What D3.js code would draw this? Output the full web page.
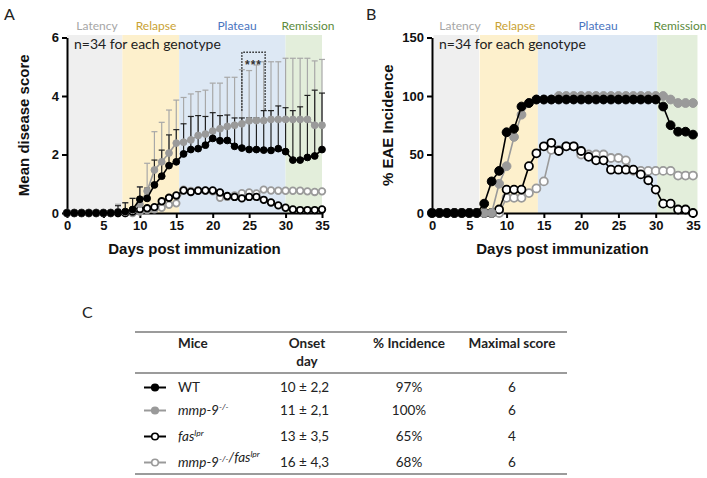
<!DOCTYPE html>
<html>
<head>
<meta charset="utf-8">
<script src="https://cdn.jsdelivr.net/npm/d3@7/dist/d3.min.js"></script>
<style>
  body { margin: 0; background: #fff; }
  svg { display: block; }
</style>
</head>
<body>
<div id="chart"></div>
<script>
// ---- data ----
const days = d3.range(0, 36);

// panel A: mean disease score (one-sided SD bars for WT and mmp-9)
const wtScore  = [0,0,0,0,0,0,0,0.03,0.05,0.12,0.47,0.5,0.96,1.26,1.62,1.75,2.02,2.17,2.2,2.32,2.55,2.47,2.48,2.28,2.22,2.17,2.17,2.15,2.14,2.2,2.1,1.81,1.81,1.9,1.95,2.17];
const wtSd     = [0,0,0,0,0,0,0,0.22,0.3,0.38,0.42,0.35,0.85,0.89,1.05,1.1,1.03,1.13,1.13,0.98,0.88,0.86,0.87,0.97,1.03,1.08,1.08,1.35,1.36,1.46,1.5,1.69,1.82,2.12,2.25,1.93];
const mmpScore = [0,0,0,0,0,0,0,0.05,0.03,0.1,0.3,0.75,1.47,1.75,2.05,2.39,2.42,2.5,2.65,2.7,2.8,2.88,2.96,3.0,3.05,3.15,3.16,3.16,3.2,3.2,3.2,3.2,3.2,3.2,3.0,3.0];
const mmpSd    = [0,0,0,0,0,0,0,0.25,0.32,0.4,0.6,0.95,1.31,1.35,1.47,1.47,1.53,1.57,1.5,1.5,1.64,1.56,1.68,1.64,1.85,1.72,1.9,2.01,1.97,1.97,2.09,2.09,2.09,2.09,2.2,2.25];
const fasScore = [0,0,0,0,0,0,0,0,0,0.05,0.13,0.16,0.2,0.4,0.52,0.6,0.77,0.72,0.76,0.77,0.77,0.7,0.58,0.55,0.5,0.55,0.55,0.45,0.36,0.26,0.18,0.12,0.1,0.1,0.1,0.12];
const dkoScore = [0,0,0,0,0,0,0,0,0,0,0.05,0.1,0.13,0.18,0.28,0.33,0.8,0.75,0.78,0.76,0.74,0.52,0.55,0.6,0.68,0.7,0.67,0.8,0.77,0.76,0.76,0.76,0.76,0.74,0.72,0.74];

// panel B: % EAE incidence
const wtInc  = [0,0,0,0,0,0,0,8,27,36,69,72,91,94,97,97,97,97,97,97,97,97,97,97,97,97,97,97,97,97,97,91,75,69.5,69.5,67];
const mmpInc = [0,0,0,0,0,0,0,0,0,25,40,65,84,94,97,97,97,100,100,100,100,100,100,100,100,100,100,100,100,100,100,100,97,94,94,94];
const fasInc = [0,0,0,0,0,0,0,0,0,3,20,20,20,40,51,57,60,53,57,57,53,48,45,45,37,37,37,37,33,28,20,8,8,3,3,0];
const dkoInc = [0,0,0,0,0,0,0,0,0,0,13,13,13,17,21,27,54,54,57,57,50,50,50,50,47,47,45,36,36,36,36,36,36,32,32,32];

// disease phases (in days)
const phaseNames  = ["Latency", "Relapse", "Plateau", "Remission"];
const phaseStartA = [0, 7.6, 15.4, 30];
const phaseEndA   = [7.6, 15.4, 30, 35];
const phaseStartB = [0.2, 6.4, 14.2, 30.2];
const phaseEndB   = [6.3, 14.2, 30.2, 35.6];

// significance bracket (days 24-27)
const sigDays = [24, 27.2];
const sigRange = [3.5, 5.5];

// table C
const miceNames  = ["WT", "mmp-9", "fas", "mmp-9/fas"];
const onsetMean  = ["10", "11", "13", "16"];
const onsetSd    = ["2,2", "2,1", "3,5", "4,3"];
const incidence  = ["97%", "100%", "65%", "68%"];
const maxScore   = ["6", "6", "4", "6"];

// ---- styles ----
const phaseFill  = ["#efefef", "#fdf0cc", "#dde8f4", "#e3eedb"];
const phaseColor = ["#a6a6a6", "#c9a233", "#4a74c0", "#5b8a3c"];
const gray = "#9a9a9a";
const seriesStyle = [
  {stroke: gray,   fill: "#fff"}, // mmp-9/fas
  {stroke: "#000", fill: "#fff"}, // fas
  {stroke: gray,   fill: gray},   // mmp-9
  {stroke: "#000", fill: "#000"}  // WT
];
const numFont = "'Liberation Sans', Arial, sans-serif";
const txtFont = "Lato, 'Open Sans', sans-serif";

const W = 707, H = 478;
const svg = d3.select("#chart").append("svg")
  .attr("width", W).attr("height", H);

function drawPanel(cfg) {
  const x = d3.scaleLinear().domain([0, 35]).range(cfg.xRange);
  const y = d3.scaleLinear().domain(cfg.yDomain).range([213, 37.5]);
  const g = svg.append("g");

  // phase shading
  g.selectAll("rect.phase")
    .data(phaseNames)
    .join("rect")
    .attr("class", "phase")
    .attr("x", (d, i) => x(cfg.starts[i]))
    .attr("width", (d, i) => x(cfg.ends[i]) - x(cfg.starts[i]))
    .attr("y", cfg.bandTop)
    .attr("height", y(0) - cfg.bandTop)
    .attr("fill", (d, i) => phaseFill[i]);

  g.selectAll("text.phase")
    .data(phaseNames)
    .join("text")
    .attr("class", "phase")
    .attr("x", (d, i) => cfg.labelX[i])
    .attr("y", 30)
    .attr("text-anchor", "middle")
    .attr("font-family", txtFont)
    .attr("font-size", 12)
    .attr("fill", (d, i) => phaseColor[i])
    .text(d => d);

  // n text
  g.append("text")
    .attr("x", cfg.xRange[0] + 7)
    .attr("y", 49)
    .attr("font-family", txtFont)
    .attr("font-size", 14)
    .attr("fill", "#222")
    .text("n=34 for each genotype");

  // error bars (one sided)
  if (cfg.errors) {
    cfg.errors.forEach(e => {
      const eg = g.append("g").attr("stroke", e.color).attr("stroke-width", 1.2).attr("fill", "none");
      days.forEach((d, i) => {
        if (e.sd[i] <= 0) return;
        const top = y(e.mean[i] + e.sd[i]);
        eg.append("line").attr("x1", x(d)).attr("x2", x(d)).attr("y1", y(e.mean[i])).attr("y2", top);
        eg.append("line").attr("x1", x(d) - 3).attr("x2", x(d) + 3).attr("y1", top).attr("y2", top);
      });
    });
  }

  // axes
  const yAxis = g.append("g")
    .attr("transform", `translate(${cfg.xRange[0]},0)`)
    .call(d3.axisLeft(y).tickValues(cfg.yTicks).tickFormat(d3.format("d")).tickSize(5).tickSizeOuter(0));
  const xAxis = g.append("g")
    .attr("transform", `translate(0,${y(0)})`)
    .call(d3.axisBottom(x).tickValues(d3.range(0, 36, 5)).tickFormat(d3.format("d")).tickSize(5).tickSizeOuter(0));
  [yAxis, xAxis].forEach(a => {
    a.selectAll("path, line").attr("stroke", "#000").attr("stroke-width", 2);
    a.selectAll("text")
      .attr("font-family", numFont)
      .attr("font-weight", "bold")
      .attr("font-size", 13)
      .attr("fill", "#111");
  });

  // series lines + markers
  cfg.series.forEach((vals, k) => {
    const st = seriesStyle[k];
    g.append("path")
      .datum(vals)
      .attr("fill", "none")
      .attr("stroke", st.stroke)
      .attr("stroke-width", 1.6)
      .attr("d", d3.line().x((v, i) => x(days[i])).y(v => y(v)));
    g.append("g")
      .selectAll("circle")
      .data(vals)
      .join("circle")
      .attr("cx", (v, i) => x(days[i]))
      .attr("cy", v => y(v))
      .attr("r", st.fill === "#fff" ? cfg.rOpen : cfg.rFill)
      .attr("fill", st.fill)
      .attr("stroke", st.stroke)
      .attr("stroke-width", st.fill === "#fff" ? 1.8 : 1);
  });

  // axis titles
  g.append("text")
    .attr("transform", `translate(${cfg.yTitleX},${(y(0) + y(cfg.yDomain[1])) / 2}) rotate(-90)`)
    .attr("text-anchor", "middle")
    .attr("font-family", numFont)
    .attr("font-weight", "bold")
    .attr("font-size", 15)
    .attr("fill", "#111")
    .text(cfg.yTitle);
  g.append("text")
    .attr("x", (cfg.xRange[0] + cfg.xRange[1]) / 2)
    .attr("y", 254)
    .attr("text-anchor", "middle")
    .attr("font-family", numFont)
    .attr("font-weight", "bold")
    .attr("font-size", 15)
    .attr("fill", "#111")
    .text("Days post immunization");

  return {x, y, g};
}

const A = drawPanel({
  xRange: [67, 322], yDomain: [0, 6], yTicks: [0, 2, 4, 6],
  starts: phaseStartA, ends: phaseEndA, bandTop: 35,
  labelX: [97, 156, 237, 308],
  series: [dkoScore, fasScore, mmpScore, wtScore],
  errors: [{mean: mmpScore, sd: mmpSd, color: "#a8a8a8"}, {mean: wtScore, sd: wtSd, color: "#222"}],
  rOpen: 3.3, rFill: 3.4,
  yTitle: "Mean disease score", yTitleX: 29
});

// significance bracket
A.g.append("path")
  .attr("d", `M${A.x(sigDays[0])},${A.y(sigRange[0])}V${A.y(sigRange[1])}H${A.x(sigDays[1])}V${A.y(sigRange[0])}`)
  .attr("fill", "none")
  .attr("stroke", "#222")
  .attr("stroke-width", 1.5)
  .attr("stroke-dasharray", "1.5,1.5");
A.g.append("text")
  .attr("x", (A.x(sigDays[0]) + A.x(sigDays[1])) / 2)
  .attr("y", A.y(sigRange[1]) + 17)
  .attr("text-anchor", "middle")
  .attr("font-family", numFont)
  .attr("font-weight", "bold")
  .attr("font-size", 12)
  .attr("letter-spacing", 1)
  .attr("fill", "#333")
  .text("***");

drawPanel({
  xRange: [432, 693], yDomain: [0, 150], yTicks: [0, 50, 100, 150],
  starts: phaseStartB, ends: phaseEndB, bandTop: 35,
  labelX: [460, 515, 598, 680],
  series: [dkoInc, fasInc, mmpInc, wtInc],
  errors: null,
  rOpen: 4, rFill: 4.4,
  yTitle: "% EAE Incidence", yTitleX: 393
});

// panel letters
[["A", 4, 20], ["B", 366, 20], ["C", 82, 318]].forEach(p => {
  svg.append("text").attr("x", p[1]).attr("y", p[2])
    .attr("font-family", txtFont).attr("font-size", 16).attr("fill", "#222").text(p[0]);
});

// ---- table C ----
const tbl = svg.append("g").attr("font-family", txtFont).attr("fill", "#222");
const rowY = [392, 415, 441, 467];
[332, 373, 474].forEach(yy => {
  tbl.append("line").attr("x1", 135).attr("x2", 567).attr("y1", yy).attr("y2", yy)
    .attr("stroke", "#7a7a7a").attr("stroke-width", 1.5);
});

const header = [
  {t: "Mice", x: 178, a: "start", y: 348},
  {t: "Onset", x: 307, a: "middle", y: 348},
  {t: "day", x: 307, a: "middle", y: 366},
  {t: "% Incidence", x: 409, a: "middle", y: 348},
  {t: "Maximal score", x: 512, a: "middle", y: 348}
];
tbl.selectAll("text.h").data(header).join("text")
  .attr("class", "h")
  .attr("x", d => d.x).attr("y", d => d.y)
  .attr("text-anchor", d => d.a)
  .attr("font-weight", "bold").attr("font-size", 13.5)
  .text(d => d.t);

const legendStyle = [
  {stroke: "#000", fill: "#000"},
  {stroke: gray, fill: gray},
  {stroke: "#000", fill: "#fff"},
  {stroke: gray, fill: "#fff"}
];

miceNames.forEach((name, i) => {
  const yy = rowY[i];
  const st = legendStyle[i];
  tbl.append("line").attr("x1", 144).attr("x2", 166).attr("y1", yy - 4.5).attr("y2", yy - 4.5)
    .attr("stroke", st.stroke).attr("stroke-width", 2);
  tbl.append("circle").attr("cx", 155).attr("cy", yy - 4.5).attr("r", 3.3)
    .attr("fill", st.fill).attr("stroke", st.stroke).attr("stroke-width", 1.6);

  const t = tbl.append("text").attr("x", 178).attr("y", yy).attr("font-size", 13.5);
  if (name === "WT") {
    t.text("WT");
  } else {
    const parts = name.split("/");
    parts.forEach((p, j) => {
      if (j > 0) t.append("tspan").attr("font-style", "italic").text("/");
      t.append("tspan").attr("font-style", "italic").text(p);
      t.append("tspan").attr("font-style", "italic").attr("font-size", 8.5).attr("dy", -5)
        .text(p === "fas" ? "lpr" : "-/-");
      t.append("tspan").attr("dy", 5).attr("font-size", 13.5).text("");
    });
  }

  tbl.append("text").attr("x", 280).attr("y", yy).attr("font-size", 13.5)
    .text(onsetMean[i] + " \u00b1 " + onsetSd[i]);
  tbl.append("text").attr("x", 409).attr("y", yy).attr("text-anchor", "middle").attr("font-size", 13.5)
    .text(incidence[i]);
  tbl.append("text").attr("x", 512).attr("y", yy).attr("text-anchor", "middle").attr("font-size", 13.5)
    .text(maxScore[i]);
});
</script>
</body>
</html>
